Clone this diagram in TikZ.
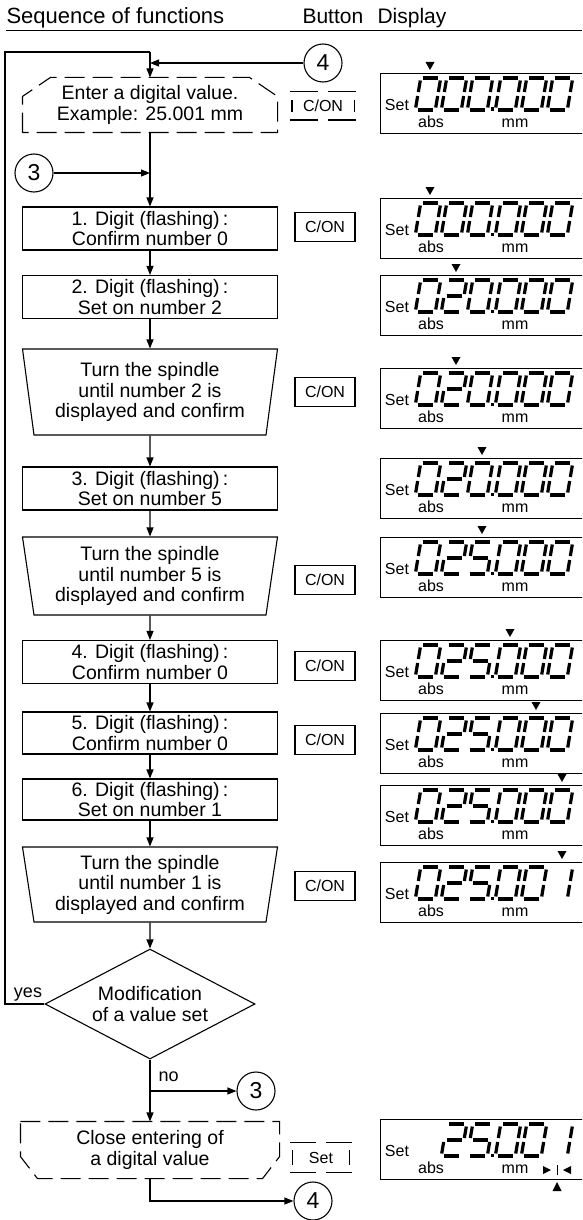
\documentclass[tikz,border=0pt]{standalone}
\usepackage{fontspec}
\setmainfont{Liberation Sans}
\usetikzlibrary{shapes.geometric,arrows.meta}

\newcommand\bodyfont{\fontsize{19.5}{20.5}\selectfont}
\newcommand\headfont{\fontsize{21}{24}\selectfont}
\newcommand\btnfont{\fontsize{16}{18}\selectfont}
\newcommand\connfont{\fontsize{23}{26}\selectfont}
\newcommand\lcdfont{\fontsize{16}{18}\selectfont}
\newcommand\labelfont{\fontsize{18}{20}\selectfont}

% seven segment digit, local origin at the left middle
\newcommand\lcdsega{\draw[lcdseg] (2.5,-16) -- (17.5,-16);}
\newcommand\lcdsegb{\draw[lcdseg] (20,-13.5) -- (20,-2);}
\newcommand\lcdsegc{\draw[lcdseg] (20,2) -- (20,13.5);}
\newcommand\lcdsegd{\draw[lcdseg] (2.5,16) -- (17.5,16);}
\newcommand\lcdsege{\draw[lcdseg] (0,2) -- (0,13.5);}
\newcommand\lcdsegf{\draw[lcdseg] (0,-13.5) -- (0,-2);}
\newcommand\lcdsegg{\draw[lcdseg] (2.5,0) -- (17.5,0);}

\newcommand\lcdnum[3]{%
  \begin{scope}[shift={(#1,#2)},xslant=0.17]
    \ifcase#3 \foreach \s in {a,b,c,d,e,f}{\csname lcdseg\s\endcsname}%
    \or \foreach \s in {b,c}{\csname lcdseg\s\endcsname}%
    \or \foreach \s in {a,b,g,e,d}{\csname lcdseg\s\endcsname}%
    \or\or\or \foreach \s in {a,f,g,c,d}{\csname lcdseg\s\endcsname}%
    \fi
  \end{scope}}

\newcommand\lcdpanel[4]{%
  \node[lcdbox] (#1) at (380,#2) {};
  \node[lcdtext] at (397,#2+32) {Set};
  \node[lcdtext] at (431,#2+49) {abs};
  \node[lcdtext] at (515,#2+50) {mm};
  \foreach \n [count=\k] in {#3}{%
    \pgfmathsetmacro\lcdx{418+26*(\k-1)+2*(\k>3)}%
    \lcdnum{\lcdx}{#2+21}{\n}}
  \fill (490.5,#2+34.5) rectangle (494,#2+38);
  \ifnum#4>0
    \pgfmathsetmacro\lcdx{430+26*(#4-1)+2*(#4>3)}%
    \fill (\lcdx-4.5,#2-11) -- (\lcdx+4.5,#2-11) -- (\lcdx,#2-3) -- cycle;
  \fi}

\newcommand\btnoutline[1]{%
  \draw (#1.north west) -- ([xshift=-5pt]#1.north);
  \draw ([xshift=5pt]#1.north) -- (#1.north east);
  \draw (#1.south west) -- ([xshift=-5pt]#1.south);
  \draw ([xshift=5pt]#1.south) -- (#1.south east);
  \draw ([xshift=2pt,yshift=-8pt]#1.north west) -- ([xshift=2pt,yshift=8pt]#1.south west);
  \draw ([xshift=-2pt,yshift=-8pt]#1.north east) -- ([xshift=-2pt,yshift=8pt]#1.south east);}

\begin{document}
\begin{tikzpicture}[x=1pt,y=-1pt,line width=1.1pt,
  every node/.style={font=\bodyfont, inner sep=0pt},
  stepbox/.style={draw, rectangle, minimum width=255, minimum height=43, align=center},
  turnbox/.style={draw, trapezium, trapezium left angle=101, trapezium right angle=101,
    trapezium stretches body, minimum width=255, align=center},
  askbox/.style={draw, diamond, aspect=1.9, minimum width=210, minimum height=110, align=center},
  openbox/.style={rectangle, minimum width=254, minimum height=54, align=center},
  dashline/.style={dash pattern=on 20pt off 8pt},
  btnbox/.style={draw, minimum width=60, minimum height=29, font=\btnfont},
  btnopen/.style={minimum width=65, minimum height=27, font=\btnfont},
  conn/.style={draw, circle, minimum size=38, font=\connfont},
  arr/.style={-{Triangle[length=9pt,width=7pt]}},
  lcdbox/.style={draw, anchor=north west, minimum width=230, minimum height=60},
  lcdtext/.style={font=\lcdfont},
  lcdseg/.style={line width=3.2pt}]

\clip (0,0) rectangle (582,1220);

\node[anchor=base west, font=\fontsize{22}{24}\selectfont] (head1) at (6,24) {Sequence of functions};
\node[anchor=base west, font=\headfont] (head2) at (302,24) {Button};
\node[anchor=base west, font=\headfont] (head3) at (377,24) {Display};
\draw[line width=0.8pt] (6,30) -- (582,30);

\node[openbox] (enter) at (150,105) {Enter a digital value.\\Example: 25.001 mm};
\draw[dashline] (enter.south west) -- ([yshift=-19pt]enter.north west) -- ([xshift=28pt]enter.north west)
  -- ([xshift=-28pt]enter.north east) -- ([yshift=-19pt]enter.north east) -- (enter.south east) -- cycle;
\node[btnopen] (btnenter) at (323,106) {C/ON};
\btnoutline{btnenter}
\node[conn] (conn4top) at (323,63) {4};
\node[conn] (conn3top) at (34,173) {3};

\node[stepbox] (dig1) at (150,228.5) {1. Digit (flashing)\,:\\Confirm number 0};
\node[btnbox] (btn1) at (325,227) {C/ON};
\node[stepbox] (dig2) at (150,297) {2. Digit (flashing)\,:\\Set on number 2};
\node[turnbox, minimum height=86] (spin2) at (150,392) {Turn the spindle\\until number 2 is\\displayed and confirm};
\node[btnbox] (btn2) at (325,392) {C/ON};
\node[stepbox] (dig3) at (150,488.5) {3. Digit (flashing)\,:\\Set on number 5};
\node[turnbox, minimum height=78] (spin5) at (150,576) {Turn the spindle\\until number 5 is\\displayed and confirm};
\node[btnbox] (btn3) at (325,580) {C/ON};
\node[stepbox] (dig4) at (150,662) {4. Digit (flashing)\,:\\Confirm number 0};
\node[btnbox] (btn4) at (325,666) {C/ON};
\node[stepbox, minimum height=42] (dig5) at (150,733) {5. Digit (flashing)\,:\\Confirm number 0};
\node[btnbox] (btn5) at (325,740) {C/ON};
\node[stepbox, minimum height=41] (dig6) at (150,799.5) {6. Digit (flashing)\,:\\Set on number 1};
\node[turnbox, minimum height=75] (spin1) at (150,884.5) {Turn the spindle\\until number 1 is\\displayed and confirm};
\node[btnbox] (btn6) at (325,886) {C/ON};
\node[askbox] (modif) at (150,1004) {Modification\\of a value set};
\node[font=\labelfont] (yes) at (28,995) {yes};
\node[font=\labelfont, anchor=west] (no) at (158,1077) {no};
\node[conn] (conn3bot) at (256,1091) {3};
\node[openbox, minimum width=258, minimum height=56] (close) at (150,1150) {Close entering of\\a digital value};
\draw[dashline] (close.north west) -- (close.north east) -- ([yshift=22pt]close.south east)
  -- ([xshift=-17pt]close.south east) -- ([xshift=17pt]close.south west) -- ([yshift=22pt]close.south west) -- cycle;
\node[btnopen, minimum width=60, minimum height=29] (btnset) at (321,1157.5) {Set};
\btnoutline{btnset}
\node[conn] (conn4bot) at (313,1201) {4};

\coordinate (loopcorner) at (5,52);
\coordinate (looptop) at (150,52);
\draw[arr] (looptop) -- (enter.north);
\draw[arr] (conn4top) -- (conn4top -| looptop);
\draw[arr] (conn3top) -- (conn3top -| enter.south);
\foreach \a/\b in {enter/dig1, dig1/dig2, dig2/spin2, spin2/dig3, dig3/spin5, spin5/dig4,
  dig4/dig5, dig5/dig6, dig6/spin1, spin1/modif, modif/close}
  \draw[arr] (\a) -- (\b);
\draw (modif.west) -| (loopcorner) -- (looptop);
\draw[arr] (modif.south |- conn3bot) -- (conn3bot);
\draw[arr] (close.south) |- (conn4bot);

\lcdpanel{disp1}{73}{0,0,0,0,0,0}{1}
\lcdpanel{disp2}{198}{0,0,0,0,0,0}{1}
\lcdpanel{disp3}{275}{0,2,0,0,0,0}{2}
\lcdpanel{disp4}{368}{0,2,0,0,0,0}{2}
\lcdpanel{disp5}{458}{0,2,0,0,0,0}{3}
\lcdpanel{disp6}{537}{0,2,5,0,0,0}{3}
\lcdpanel{disp7}{640}{0,2,5,0,0,0}{4}
\lcdpanel{disp8}{713}{0,2,5,0,0,0}{5}
\lcdpanel{disp9}{785}{0,2,5,0,0,0}{6}
\lcdpanel{disp10}{862}{0,2,5,0,0,1}{6}
\lcdpanel{dispend}{1119}{9,2,5,0,0,1}{0}
\fill (543,1166) -- (551,1170) -- (543,1174) -- cycle;
\draw[line width=0.9pt] (557,1165) -- (557,1175);
\fill (571,1166) -- (563,1170) -- (571,1174) -- cycle;
\fill (552.5,1191) -- (561.5,1191) -- (557,1182) -- cycle;
\end{tikzpicture}
\end{document}
